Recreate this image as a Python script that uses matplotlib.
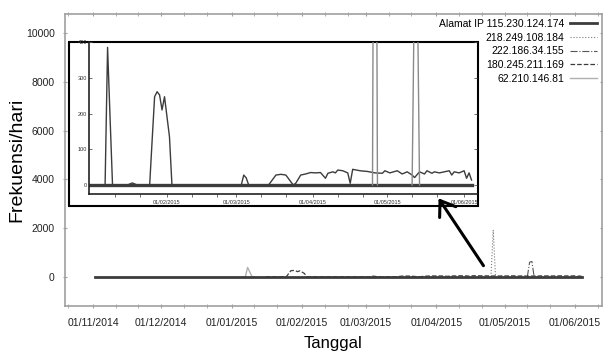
import matplotlib
matplotlib.use('Agg')
import matplotlib.pyplot as plt
import matplotlib.dates as mdates
import pandas as pd
from matplotlib.patches import Rectangle, FancyArrowPatch

plt.rcParams['font.family'] = ['Liberation Sans', 'DejaVu Sans']

# ---------------- data ----------------
ip_labels = ['Alamat IP 115.230.124.174', '218.249.108.184', '222.186.34.155',
             '180.245.211.169', '62.210.146.81']

ip1_dates = ['2014-11-02', '2014-12-01', '2015-01-01', '2015-02-01', '2015-03-01',
             '2015-04-01', '2015-05-01', '2015-06-01', '2015-06-04']
ip1_values = [0, 0, 0, 0, 0, 0, 0, 0, 0]

ip2_dates = ['2015-04-25', '2015-04-26', '2015-04-27']
ip2_values = [0, 1930, 0]

ip3_dates = ['2015-05-11', '2015-05-12', '2015-05-13', '2015-05-14']
ip3_values = [0, 600, 630, 0]

ip4_dates = ['2015-01-16', '2015-01-18', '2015-01-20', '2015-01-25', '2015-01-26',
             '2015-01-27', '2015-01-28', '2015-01-29', '2015-01-30', '2015-01-31',
             '2015-02-01', '2015-02-02', '2015-02-03', '2015-03-03', '2015-03-04',
             '2015-03-05', '2015-03-06', '2015-03-14', '2015-03-17', '2015-03-19',
             '2015-03-21', '2015-03-24', '2015-03-25', '2015-03-27', '2015-03-29',
             '2015-03-31', '2015-04-02', '2015-04-04', '2015-04-06', '2015-04-07',
             '2015-04-09', '2015-04-10', '2015-04-11', '2015-04-13', '2015-04-15',
             '2015-04-16', '2015-04-17', '2015-04-20', '2015-04-23', '2015-04-26',
             '2015-04-29', '2015-04-30', '2015-05-02', '2015-05-05', '2015-05-07',
             '2015-05-09', '2015-05-11', '2015-05-12', '2015-05-14', '2015-05-16',
             '2015-05-17', '2015-05-19', '2015-05-20', '2015-05-22', '2015-05-24',
             '2015-05-26', '2015-05-27', '2015-05-28', '2015-05-30', '2015-06-01',
             '2015-06-02', '2015-06-03', '2015-06-04']
ip4_values = [0, 6, 0, 0, 125,
              247, 261, 252, 210, 247,
              191, 135, 0, 0, 28,
              20, 0, 0, 28, 30,
              28, 0, 5, 28, 31,
              35, 34, 35, 19, 33,
              37, 34, 42, 40, 34,
              5, 44, 40, 38, 34,
              33, 40, 34, 40, 31,
              37, 28, 21, 37, 31,
              40, 33, 37, 34, 37,
              40, 28, 37, 34, 40,
              19, 34, 14]

ip5_dates = ['2015-01-06', '2015-01-07', '2015-01-08', '2015-01-09', '2015-01-10', '2015-01-11']
ip5_values = [0, 0, 385, 190, 0, 0]

main_yticks = [0, 2000, 4000, 6000, 8000, 10000]
inset_yticks = [0, 100, 200, 300, 400]
main_xticks = ['2014-11-01', '2014-12-01', '2015-01-01', '2015-02-01', '2015-03-01',
               '2015-04-01', '2015-05-01', '2015-06-01']
inset_xticks = ['2015-02-01', '2015-03-01', '2015-04-01', '2015-05-01', '2015-06-01']

def d(lst):
    return pd.to_datetime(lst)

W, H = 603, 352
fig = plt.figure(figsize=(W / 100, H / 100), dpi=100)

def fx(px):
    return px / W

def fy(py):
    return 1 - py / H

# ---------------- main axes ----------------
L, R, T, B = 65, 602, 14, 306
ax = fig.add_axes([fx(L), fy(B), fx(R - L), (B - T) / H])

main_styles = [
    dict(color='#3c3c3c', lw=2.0, ls='-'),
    dict(color='#7a7a7a', lw=0.8, ls=':'),
    dict(color='#555555', lw=0.8, ls='-.'),
    dict(color='#3c3c3c', lw=0.9, ls='--'),
    dict(color='#b0b0b0', lw=1.0, ls='-'),
]
series = [(ip1_dates, ip1_values), (ip2_dates, ip2_values), (ip3_dates, ip3_values),
          (ip4_dates, ip4_values), (ip5_dates, ip5_values)]
handles = []
for (dts, vals), st, lab in zip(series, main_styles, ip_labels):
    h, = ax.plot(d(dts), vals, label=lab, **st)
    handles.append(h)
ax.lines[0].set_zorder(3)

ax.set_xlim(pd.Timestamp('2014-10-19 17:00'), pd.Timestamp('2015-06-12 20:00'))
ax.set_ylim(-1200, 10800)
ax.set_yticks(main_yticks)
ax.set_yticklabels([str(v) for v in main_yticks])
ax.set_xticks(d(main_xticks))
ax.xaxis.set_major_formatter(mdates.DateFormatter('%d/%m/%Y'))
ax.xaxis.set_minor_locator(mdates.DayLocator(bymonthday=[11, 21]))
for s in ax.spines.values():
    s.set_color('#a0a0a0')
    s.set_linewidth(1.2)
ax.tick_params(which='both', direction='inout', length=3, color='#a0a0a0',
               top=True, right=True, labelsize=7.5, labelcolor='#222222')
ax.tick_params(axis='x', pad=7)
ax.tick_params(axis='y', pad=6)
ax.set_xlabel('Tanggal', fontsize=12, labelpad=6)
ax.set_ylabel('Frekuensi/hari', fontsize=14)
ax.yaxis.set_label_coords(fx(17), fy(160), transform=fig.transFigure)
ax.yaxis.label.set_va('center')

leg = ax.legend(handles=handles, loc='upper right', bbox_to_anchor=(fx(597), fy(19)),
                bbox_transform=fig.transFigure, frameon=False, markerfirst=False,
                fontsize=7.5, handlelength=2.6, handletextpad=0.55, labelspacing=0.35,
                borderpad=0, borderaxespad=0)

# ---------------- inset ----------------
box = Rectangle((fx(69), fy(206)), fx(409), 164 / H, transform=fig.transFigure,
                facecolor='white', edgecolor='black', lw=1.5, zorder=5)
fig.patches.append(box)

iL, iR, iT, iB = 89, 477, 42, 194
ax2 = fig.add_axes([fx(iL), fy(iB), fx(iR - iL), (iB - iT) / H], zorder=6)
ax2.patch.set_alpha(0)
ax2.plot(d(ip1_dates[2:]), ip1_values[2:], color='#3c3c3c', lw=2.4, zorder=2)
ax2.plot(d(ip5_dates), ip5_values, color='#3c3c3c', lw=1.0, zorder=3)
ax2.plot(d(ip4_dates), ip4_values, color='#3c3c3c', lw=1.0, zorder=3)
ax2.plot(d(ip2_dates), ip2_values, color='#8a8a8a', lw=1.0, zorder=3)
ax2.plot(d(ip3_dates), ip3_values, color='#8a8a8a', lw=1.0, zorder=3)
ax2.set_xlim(pd.Timestamp('2014-12-31 12:00'), pd.Timestamp('2015-06-06 05:00'))
ax2.set_ylim(-25, 400)
ax2.set_yticks(inset_yticks)
ax2.set_xticks(d(inset_xticks))
ax2.xaxis.set_major_formatter(mdates.DateFormatter('%d/%m/%Y'))
ax2.xaxis.set_minor_locator(mdates.DayLocator(bymonthday=[11, 21]))
ax2.spines['top'].set_visible(False)
ax2.spines['right'].set_visible(False)
ax2.spines['left'].set_color('#222222')
ax2.spines['bottom'].set_color('#222222')
ax2.spines['left'].set_linewidth(1.2)
ax2.spines['bottom'].set_linewidth(1.2)
ax2.tick_params(which='both', direction='out', length=2.5, width=0.6, color='#555555',
                labelsize=4, labelcolor='#333333', pad=1.5, right=True)
ax2.tick_params(axis='y', which='both', right=True, direction='in')

# ---------------- arrow ----------------
arr = FancyArrowPatch((fx(485), fy(268)), (fx(437), fy(196)), transform=fig.transFigure,
                      arrowstyle='->,head_length=0.4,head_width=0.28', mutation_scale=25,
                      color='black', lw=2.2, zorder=10)
fig.patches.append(arr)

fig.savefig('out.png', dpi=100)
